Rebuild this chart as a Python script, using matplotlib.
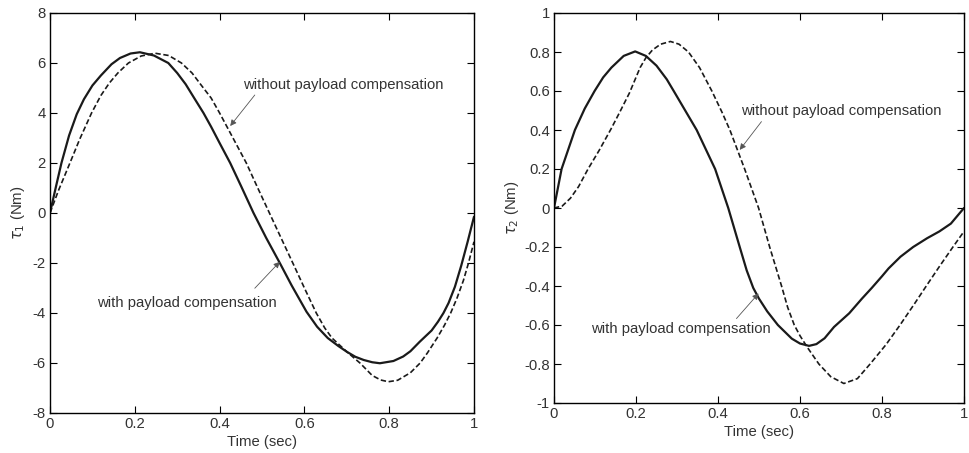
import matplotlib
matplotlib.use("Agg")
import matplotlib.pyplot as plt

# ---------------- data ----------------
# Left panel: tau_1 (Nm)
l_with_t = [0, 0.014, 0.027, 0.045, 0.063, 0.08, 0.10, 0.12, 0.145, 0.165, 0.19, 0.212,
            0.245, 0.279, 0.30, 0.32, 0.34, 0.362, 0.38, 0.40, 0.425, 0.45, 0.48, 0.51,
            0.542, 0.57, 0.605, 0.63, 0.655, 0.68, 0.70, 0.72, 0.74, 0.76, 0.778, 0.81,
            0.833, 0.85, 0.872, 0.90, 0.915, 0.928, 0.94, 0.955, 0.97, 0.985, 1.0]
l_with_y = [0, 1.05, 2.0, 3.1, 3.95, 4.55, 5.1, 5.5, 5.95, 6.2, 6.38, 6.43,
            6.3, 6.0, 5.6, 5.15, 4.6, 4.0, 3.45, 2.8, 2.0, 1.1, 0.0, -1.0,
            -2.0, -2.9, -3.95, -4.55, -5.0, -5.32, -5.55, -5.75, -5.88, -5.97, -6.01, -5.92,
            -5.74, -5.53, -5.15, -4.7, -4.35, -4.0, -3.6, -2.95, -2.1, -1.15, -0.15]

l_without_t = [0, 0.02, 0.047, 0.07, 0.098, 0.12, 0.14, 0.16, 0.185, 0.215, 0.248, 0.28,
               0.31, 0.335, 0.355, 0.38, 0.40, 0.43, 0.463, 0.49, 0.512, 0.545, 0.574, 0.60,
               0.628, 0.648, 0.665, 0.70, 0.731, 0.76, 0.78, 0.798, 0.82, 0.85, 0.873, 0.89,
               0.913, 0.93, 0.945, 0.96, 0.975, 0.987, 1.0]
l_without_y = [0, 0.9, 2.0, 2.95, 4.0, 4.7, 5.2, 5.6, 6.0, 6.28, 6.39, 6.3,
               6.0, 5.6, 5.15, 4.6, 4.0, 3.05, 2.0, 1.0, 0.2, -1.0, -2.05, -3.0,
               -4.0, -4.6, -5.0, -5.55, -6.0, -6.5, -6.68, -6.75, -6.69, -6.39, -6.0, -5.6,
               -5.0, -4.5, -4.0, -3.4, -2.7, -2.0, -1.15]

# Right panel: tau_2 (Nm)
r_with_t = [0, 0.0185, 0.051, 0.075, 0.099, 0.12, 0.14, 0.17, 0.198, 0.224, 0.25, 0.275,
            0.292, 0.32, 0.348, 0.393, 0.425, 0.453, 0.47, 0.486, 0.50, 0.52, 0.546, 0.58,
            0.60, 0.622, 0.64, 0.66, 0.683, 0.72, 0.751, 0.775, 0.80, 0.816, 0.845, 0.876,
            0.91, 0.94, 0.968, 1.0]
r_with_y = [0, 0.2, 0.4, 0.51, 0.6, 0.67, 0.72, 0.78, 0.803, 0.78, 0.73, 0.66,
            0.6, 0.5, 0.4, 0.2, 0.0, -0.2, -0.32, -0.41, -0.465, -0.53, -0.6, -0.67,
            -0.695, -0.707, -0.698, -0.668, -0.61, -0.54, -0.465, -0.41, -0.35, -0.31, -0.25,
            -0.2, -0.155, -0.12, -0.08, 0.0]

r_without_t = [0, 0.02, 0.04, 0.06, 0.083, 0.11, 0.139, 0.16, 0.184, 0.21, 0.224, 0.24,
               0.26, 0.284, 0.305, 0.328, 0.355, 0.385, 0.41, 0.429, 0.465, 0.499, 0.526,
               0.555, 0.57, 0.586, 0.60, 0.618, 0.646, 0.675, 0.707, 0.74, 0.771, 0.81,
               0.844, 0.878, 0.908, 0.94, 0.973, 1.0]
r_without_y = [0, 0.01, 0.05, 0.11, 0.2, 0.295, 0.405, 0.49, 0.59, 0.72, 0.77, 0.81,
               0.84, 0.854, 0.84, 0.8, 0.72, 0.6, 0.49, 0.4, 0.2, 0.0, -0.2,
               -0.4, -0.51, -0.6, -0.655, -0.715, -0.8, -0.865, -0.9, -0.875, -0.8, -0.7,
               -0.6, -0.495, -0.4, -0.3, -0.2, -0.12]

x_ticks = [0, 0.2, 0.4, 0.6, 0.8, 1]
x_ticklabels = ["0", "0.2", "0.4", "0.6", "0.8", "1"]
l_yticks = [-8, -6, -4, -2, 0, 2, 4, 6, 8]
r_yticks = [-1, -0.8, -0.6, -0.4, -0.2, 0, 0.2, 0.4, 0.6, 0.8, 1]
r_yticklabels = ["-1", "-0.8", "-0.6", "-0.4", "-0.2", "0", "0.2", "0.4", "0.6", "0.8", "1"]

label_with = "with payload compensation"
label_without = "without payload compensation"

# ---------------- figure ----------------
plt.rcParams['font.family'] = ['Liberation Sans', 'DejaVu Sans']
plt.rcParams['mathtext.fontset'] = 'dejavusans'
plt.rcParams['axes.unicode_minus'] = False
TXT = '#333333'
FS = 10.7

fig = plt.figure(figsize=(9.7, 4.53), dpi=100)
axL = fig.add_axes([50/970, 40/453, 424/970, 400/453])
axR = fig.add_axes([554/970, 50/453, 410/970, 390/453])

dash = (0, (3.2, 1.6))

def style(ax):
    ax.set_xlim(0, 1)
    ax.set_xticks(x_ticks)
    ax.set_xticklabels(x_ticklabels)
    ax.tick_params(direction='in', length=5, width=0.8, top=True, right=True,
                   labelsize=FS, labelcolor=TXT, pad=3)
    for s in ax.spines.values():
        s.set_linewidth(1.0)
        s.set_color('black')
    ax.set_xlabel("Time (sec)", fontsize=FS, color=TXT, labelpad=3)

line_kw = dict(color='#1a1a1a', solid_joinstyle='round', solid_capstyle='round')

# left
axL.plot(l_with_t, l_with_y, lw=1.6, **line_kw)
axL.plot(l_without_t, l_without_y, color='#1a1a1a', lw=1.2, linestyle=dash)
axL.set_ylim(-8, 8)
axL.set_yticks(l_yticks)
style(axL)
axL.set_ylabel(r"$\tau_1$ (Nm)", fontsize=FS, color=TXT, labelpad=4)

arrow_kw = dict(arrowstyle='-|>', color='#555555', lw=0.6, mutation_scale=9,
                shrinkA=0, shrinkB=0)
axL.annotate("", xy=(0.425, 3.48), xytext=(0.483, 4.72), arrowprops=arrow_kw)
axL.annotate("", xy=(0.542, -1.95), xytext=(0.483, -3.01), arrowprops=arrow_kw)
axL.text(0.455, 5.13, label_without, fontsize=FS, color=TXT, va='center', ha='left')
axL.text(0.111, -3.6, label_with, fontsize=FS, color=TXT, va='center', ha='left')

# right
axR.plot(r_with_t, r_with_y, lw=1.6, **line_kw)
axR.plot(r_without_t, r_without_y, color='#1a1a1a', lw=1.2, linestyle=dash)
axR.set_ylim(-1, 1)
axR.set_yticks(r_yticks)
axR.set_yticklabels(r_yticklabels)
style(axR)
axR.set_ylabel(r"$\tau_2$ (Nm)", fontsize=FS, color=TXT, labelpad=2)

axR.annotate("", xy=(0.453, 0.298), xytext=(0.506, 0.443), arrowprops=arrow_kw)
axR.annotate("", xy=(0.499, -0.438), xytext=(0.445, -0.567), arrowprops=arrow_kw)
axR.text(0.455, 0.495, label_without, fontsize=FS, color=TXT, va='center', ha='left')
axR.text(0.091, -0.618, label_with, fontsize=FS, color=TXT, va='center', ha='left')

fig.savefig("out.png", dpi=100)
